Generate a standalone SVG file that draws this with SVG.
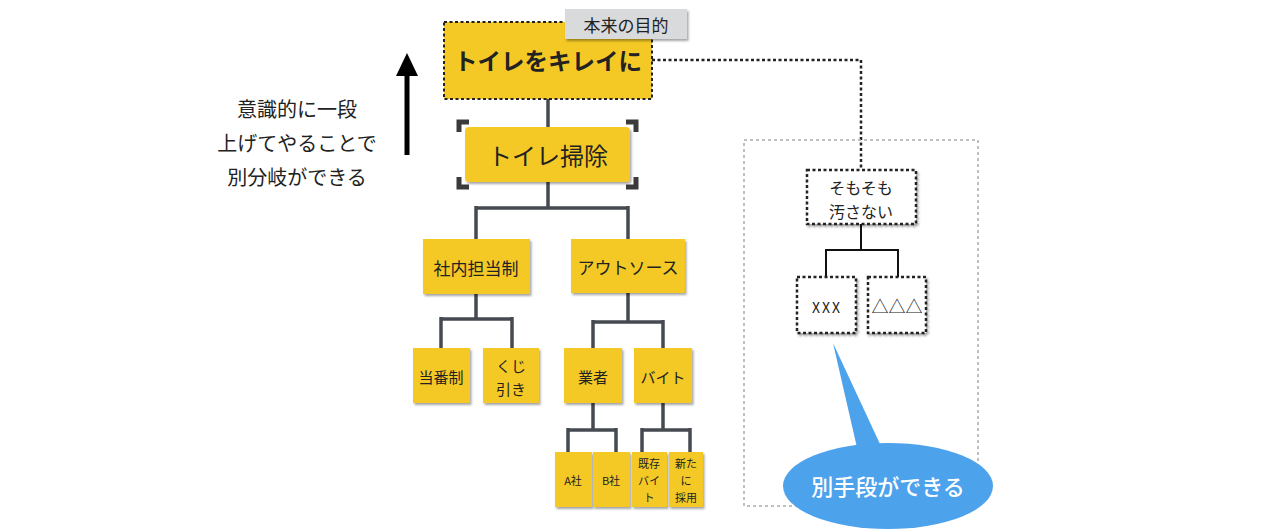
<svg xmlns="http://www.w3.org/2000/svg" width="1280" height="529" viewBox="0 0 1280 529">
<defs>
<filter id="sh" x="-10%" y="-10%" width="130%" height="130%"><feDropShadow dx="1.5" dy="2" stdDeviation="1.2" flood-color="#000" flood-opacity="0.35"/></filter>
</defs>
<style>
text{font-family:"Noto Sans CJK JP","Noto Sans",sans-serif;fill:#222;text-anchor:middle;dominant-baseline:central}
.y{fill:#f4c925;filter:url(#sh)}
.ln{fill:none;stroke:#454a50;stroke-width:3.5}
.bl{fill:none;stroke:#111;stroke-width:2}
.dash{fill:#fff;stroke:#222;stroke-width:2.5;stroke-dasharray:3 2.5;filter:url(#sh)}
.s{font-size:11px}
</style>
<rect width="1280" height="529" fill="#fff"/>
<g id="connectors">
<path class="ln" d="M548 99V127M548 182V208M476 208H628M476 206V239M628 206V239"/>
<path class="ln" d="M476 294V319M441 319H512M441 317V348M512 317V348"/>
<path class="ln" d="M628 293V322M593 322H663M593 320V348M663 320V348"/>
<path class="ln" d="M593 403V430M568 430H616M568 428V452M616 428V452"/>
<path class="ln" d="M663 403V430M642 430H690M642 428V452M690 428V452"/>
<path d="M652 60H861V170" fill="none" stroke="#222" stroke-width="2.5" stroke-dasharray="3 2.5"/>
<path class="bl" d="M861 224V250M826 250H898M826 249V277M898 249V277"/>
</g>
<g id="arrow">
<rect x="404.5" y="72" width="5" height="83" fill="#000"/>
<path d="M396 76L407 53L418 76Z" fill="#000"/>
</g>
<g id="note">
<text x="297" y="108" font-size="20" fill="#333">意識的に一段</text>
<text x="297" y="142" font-size="20" fill="#333">上げてやることで</text>
<text x="297" y="176" font-size="20" fill="#333">別分岐ができる</text>
</g>
<g id="n-goal">
<rect x="444" y="22" width="208" height="77" fill="#f4c925" stroke="#222" stroke-width="2" stroke-dasharray="3 2.5"/>
<text x="548" y="60" font-size="23.5" font-weight="bold">トイレをキレイに</text>
</g>
<g id="n-label">
<rect x="565" y="9" width="122" height="30" fill="#d9dadc" filter="url(#sh)"/>
<text x="626" y="24" font-size="17" fill="#333">本来の目的</text>
</g>
<g id="n-clean">
<path d="M459 132V122H469M626 122H636V132M636 177V187H626M469 187H459V177" fill="none" stroke="#3a3a3a" stroke-width="5"/>
<rect x="465" y="127" width="165" height="55" rx="4" class="y"/>
<text x="548" y="154" font-size="24" fill="#333">トイレ掃除</text>
</g>
<g id="n-inhouse"><rect x="423" y="239" width="107" height="55" class="y"/><text x="476" y="267" font-size="17">社内担当制</text></g>
<g id="n-outsource"><rect x="571" y="239" width="114" height="54" class="y"/><text x="628" y="266" font-size="17">アウトソース</text></g>
<g id="n-toban"><rect x="413" y="348" width="57" height="55" class="y"/><text x="441" y="376" font-size="15">当番制</text></g>
<g id="n-kuji"><rect x="483" y="348" width="56" height="55" class="y"/><text x="511" y="365" font-size="15">くじ</text><text x="511" y="388" font-size="15">引き</text></g>
<g id="n-gyosha"><rect x="564" y="348" width="58" height="55" class="y"/><text x="593" y="376" font-size="15">業者</text></g>
<g id="n-baito"><rect x="634" y="348" width="58" height="55" class="y"/><text x="663" y="376" font-size="15">バイト</text></g>
<g id="n-a"><rect x="555" y="452" width="37" height="55" class="y"/><text x="573" y="480" class="s">A社</text></g>
<g id="n-b"><rect x="593" y="452" width="37" height="55" class="y"/><text x="611" y="480" class="s">B社</text></g>
<g id="n-kizon"><rect x="632" y="452" width="35" height="55" class="y"/><text x="649" y="463" class="s">既存</text><text x="649" y="480" class="s">バイ</text><text x="649" y="497" class="s">ト</text></g>
<g id="n-arata"><rect x="669" y="452" width="34" height="55" class="y"/><text x="686" y="463" class="s">新た</text><text x="686" y="480" class="s">に</text><text x="686" y="497" class="s">採用</text></g>
<g id="group-alt">
<rect x="744" y="140" width="234" height="366" fill="none" stroke="#aaa" stroke-width="1.5" stroke-dasharray="3 3"/>
</g>
<g id="n-somosomo"><rect x="807" y="170" width="109" height="54" class="dash"/><text x="861" y="187" font-size="16" fill="#333">そもそも</text><text x="861" y="211" font-size="16" fill="#333">汚さない</text></g>
<g id="n-xxx"><rect x="797" y="277" width="59" height="56" class="dash"/><text x="827" y="307" font-size="14" fill="#555" letter-spacing="2">XXX</text></g>
<g id="n-tri"><rect x="868" y="277" width="58" height="56" class="dash"/><text x="897" y="305" font-size="17" fill="#777">△△△</text></g>
<g id="callout">
<path d="M833 343L858 452L880 444Z" fill="#4da2ec"/>
<ellipse cx="888" cy="486" rx="105" ry="43" fill="#4da2ec"/>
<text x="888" y="485" font-size="22" font-weight="500" style="fill:#fff">別手段ができる</text>
</g>
</svg>
